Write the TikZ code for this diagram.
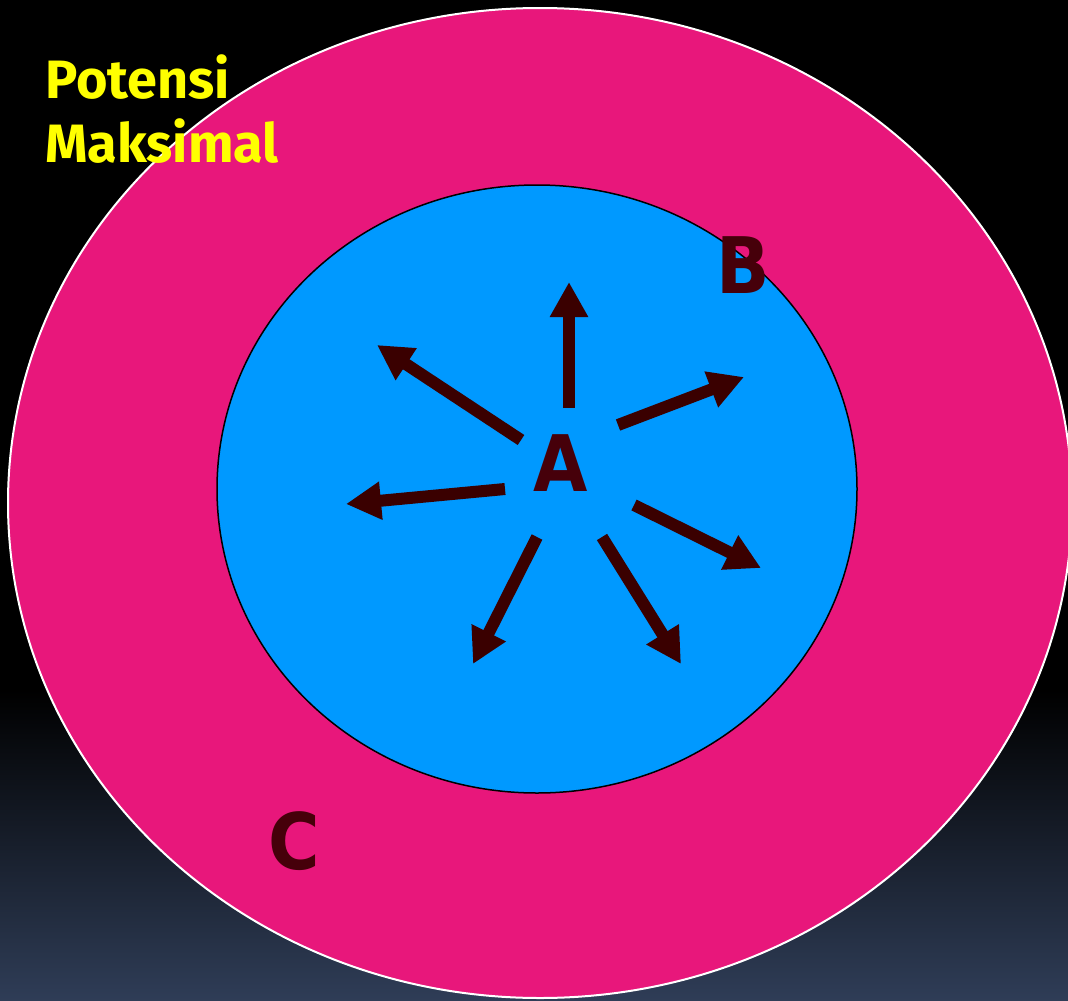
\documentclass[tikz,border=0pt]{standalone}
\usepackage{fontspec}
\setmainfont{DejaVu Sans}
\newfontfamily\labfont{DejaVu Sans Condensed}
\newfontfamily\yfont{Fira Sans}
\usetikzlibrary{arrows.meta}
\definecolor{pinkc}{RGB}{232,23,123}
\definecolor{bluec}{RGB}{0,153,255}
\definecolor{maroon}{RGB}{58,0,0}
\definecolor{labc}{RGB}{70,0,10}
\definecolor{bgbot}{RGB}{47,61,87}
\definecolor{ylw}{RGB}{255,255,0}
\tikzset{
  ray/.style={draw=maroon, line width=12pt, -{Triangle[length=35pt,width=36pt]}},
  biglab/.style={text=labc, font=\labfont\fontsize{78}{90}\selectfont\bfseries, inner sep=0pt},
  ylab/.style={text=ylw, font=\yfont\fontsize{54}{60}\selectfont\bfseries, inner sep=0pt, anchor=base west}
}
\begin{document}
\begin{tikzpicture}[x=1pt,y=-1pt]
\useasboundingbox (0,0) rectangle (1068,1001);
\fill[black] (0,0) rectangle (1068,1001);
\shade[top color=black, bottom color=bgbot] (0,690) rectangle (1068,1001);
\draw[fill=pinkc, draw=white, line width=2pt] (540,503) ellipse [x radius=532, y radius=495];
\draw[fill=bluec, draw=black, line width=1.5pt] (537,489) ellipse [x radius=320, y radius=304];
\node[ylab] (p1) at (45,98) {Potensi};
\node[ylab] (p2) at (45,162) {Maksimal};
\node[biglab] (A) at (561,463) {A};
\node[biglab] (B) at (743,265) {B};
\node[biglab] (C) at (294,841) {C};
\coordinate (t1) at (569,408); \coordinate (h1) at (569,282);
\coordinate (t2) at (521,440); \coordinate (h2) at (377,345);
\coordinate (t3) at (618,425); \coordinate (h3) at (744,377);
\coordinate (t4) at (505,489); \coordinate (h4) at (346,504);
\coordinate (t5) at (634,505); \coordinate (h5) at (761,568);
\coordinate (t6) at (537,537); \coordinate (h6) at (473,664);
\coordinate (t7) at (602,537); \coordinate (h7) at (681,664);
\foreach \i in {1,...,7} { \draw[ray] (t\i) -- (h\i); }
\end{tikzpicture}
\end{document}
